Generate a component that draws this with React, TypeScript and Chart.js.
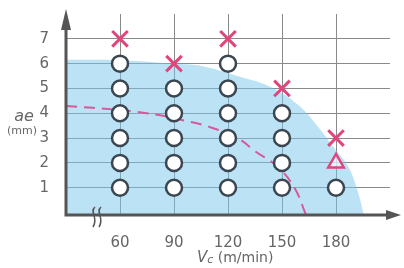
import React, { useEffect, useRef } from "react";
import { Chart, registerables } from "chart.js";

Chart.register(...registerables);

// Tick values
const xTicks = [60, 90, 120, 150, 180];
const yTicks = [1, 2, 3, 4, 5, 6, 7];

// Marker positions
const circlePoints = [
  { x: 60, y: 1 }, { x: 60, y: 2 }, { x: 60, y: 3 }, { x: 60, y: 4 }, { x: 60, y: 5 }, { x: 60, y: 6 },
  { x: 90, y: 1 }, { x: 90, y: 2 }, { x: 90, y: 3 }, { x: 90, y: 4 }, { x: 90, y: 5 },
  { x: 120, y: 1 }, { x: 120, y: 2 }, { x: 120, y: 3 }, { x: 120, y: 4 }, { x: 120, y: 5 }, { x: 120, y: 6 },
  { x: 150, y: 1 }, { x: 150, y: 2 }, { x: 150, y: 3 }, { x: 150, y: 4 },
  { x: 180, y: 1 },
];
const crossPoints = [
  { x: 60, y: 7 }, { x: 90, y: 6 }, { x: 120, y: 7 }, { x: 150, y: 5 }, { x: 180, y: 3 },
];
const trianglePoints = [{ x: 180, y: 2 }];

// Blue region boundary
const regionX = [30, 60, 90, 104, 126, 144, 159, 170, 178.3, 186.6, 192, 195.5];
const regionY = [6.16, 6.14, 6.0, 5.92, 5.48, 5.05, 4.33, 3.46, 2.66, 1.87, 0.87, -0.1];

// Dashed boundary
const dashX = [30, 60, 81.6, 94.3, 109.2, 125.8, 135.2, 147.9, 157.3, 162.8, 163.3];
const dashY = [4.29, 4.13, 3.93, 3.73, 3.46, 2.98, 2.46, 1.83, 0.95, 0.0, -0.1];

const X_MIN = 30;
const X_MAX = 210;
const Y_MIN = -0.1;
const Y_MAX = 8;

const FONT = "'DejaVu Sans', sans-serif";
const TEXT = "#666";
const AXIS = "#555";
const PINK = "#e0457c";

const decorPlugin = {
  id: "decor",
  afterDatasetsDraw(chart: any) {
    const { ctx, chartArea } = chart;
    const { left, bottom, top, right } = chartArea;
    ctx.save();
    ctx.strokeStyle = AXIS;
    ctx.lineWidth = 3;
    ctx.beginPath();
    ctx.moveTo(left, bottom);
    ctx.lineTo(left, top + 14);
    ctx.moveTo(left - 1.5, bottom);
    ctx.lineTo(right - 2, bottom);
    ctx.stroke();
    ctx.fillStyle = AXIS;
    ctx.beginPath();
    ctx.moveTo(left, top - 5);
    ctx.lineTo(left - 5, top + 16);
    ctx.lineTo(left + 5, top + 16);
    ctx.closePath();
    ctx.fill();
    ctx.beginPath();
    ctx.moveTo(right + 11, bottom);
    ctx.lineTo(right - 4, bottom - 5);
    ctx.lineTo(right - 4, bottom + 5);
    ctx.closePath();
    ctx.fill();
    ctx.strokeStyle = AXIS;
    ctx.lineWidth = 1.5;
    [94, 100].forEach((bx) => {
      ctx.beginPath();
      ctx.moveTo(bx + 1, bottom - 8);
      ctx.bezierCurveTo(bx - 5, bottom - 3, bx + 5, bottom + 3, bx - 1, bottom + 12);
      ctx.stroke();
    });
    ctx.restore();
  },
  afterDraw(chart: any) {
    const { ctx } = chart;
    ctx.save();
    ctx.fillStyle = TEXT;
    ctx.textBaseline = "middle";
    ctx.textAlign = "center";
    ctx.font = `italic 16px ${FONT}`;
    ctx.fillText("ae", 24, 117);
    ctx.font = `11px ${FONT}`;
    ctx.fillText("(mm)", 22, 131);
    ctx.textAlign = "left";
    let x = 197;
    ctx.font = `italic 15px ${FONT}`;
    ctx.fillText("V", x, 258);
    x += ctx.measureText("V").width;
    ctx.font = `italic 11px ${FONT}`;
    ctx.fillText("c", x, 260);
    x += ctx.measureText("c").width;
    ctx.font = `14px ${FONT}`;
    ctx.fillText(" (m/min)", x, 258);
    ctx.restore();
  },
};

export default function App() {
  const ref = useRef<HTMLCanvasElement | null>(null);
  useEffect(() => {
    if (!ref.current) return;
    const chart = new Chart(ref.current, {
      type: "scatter",
      data: {
        datasets: [
          {
            label: "cross",
            data: crossPoints,
            pointStyle: "crossRot",
            pointRadius: 11,
            pointBorderWidth: 3,
            borderColor: PINK,
            backgroundColor: PINK,
            order: 0,
          } as any,
          {
            label: "triangle",
            data: trianglePoints,
            pointStyle: "triangle",
            pointRadius: 9,
            pointBorderWidth: 2.5,
            borderColor: PINK,
            backgroundColor: "rgba(255,255,255,0.6)",
            order: 1,
          },
          {
            label: "circle",
            data: circlePoints,
            pointStyle: "circle",
            pointRadius: 8,
            pointBorderWidth: 2.5,
            borderColor: "#3b4650",
            backgroundColor: "#ffffff",
            order: 2,
          },
          {
            label: "dash",
            data: dashX.map((x, i) => ({ x, y: dashY[i] })),
            showLine: true,
            pointRadius: 0,
            borderColor: "#d8589c",
            borderWidth: 2,
            borderDash: [11, 7],
            tension: 0.4,
            fill: false,
            order: 3,
          },
          {
            label: "region",
            data: regionX.map((x, i) => ({ x, y: regionY[i] })),
            showLine: true,
            pointRadius: 0,
            borderWidth: 0,
            borderColor: "rgba(0,0,0,0)",
            backgroundColor: "rgba(120,200,235,0.5)",
            tension: 0.4,
            fill: "start",
            order: 4,
          },
        ],
      },
      options: {
        animation: false,
        responsive: false,
        events: [],
        layout: { padding: { top: 10, right: 11, left: 0, bottom: 0 } },
        plugins: { legend: { display: false }, tooltip: { enabled: false } },
        scales: {
          x: {
            type: "linear",
            min: X_MIN,
            max: X_MAX,
            afterBuildTicks: (scale: any) => {
              scale.ticks = xTicks.map((v) => ({ value: v }));
            },
            afterFit: (scale: any) => {
              scale.height = 53;
              scale.paddingLeft = 0;
              scale.paddingRight = 0;
            },
            grid: { color: "#8a8a8a", lineWidth: 1, drawTicks: false },
            border: { display: false },
            ticks: {
              color: TEXT,
              font: { family: FONT, size: 15 },
              padding: 19,
              maxRotation: 0,
            },
          },
          y: {
            type: "linear",
            min: Y_MIN,
            max: Y_MAX,
            afterBuildTicks: (scale: any) => {
              scale.ticks = yTicks.map((v) => ({ value: v }));
            },
            afterFit: (scale: any) => {
              scale.width = 66;
              scale.paddingTop = 0;
              scale.paddingBottom = 0;
            },
            grid: { color: "#8a8a8a", lineWidth: 1, drawTicks: false },
            border: { display: false },
            ticks: {
              color: TEXT,
              font: { family: FONT, size: 15 },
              padding: 17,
            },
          },
        },
      },
      plugins: [decorPlugin],
    } as any);
    return () => chart.destroy();
  }, []);
  return (
    <div style={{ position: "fixed", left: 0, top: 0, width: 404, height: 268, background: "#fff" }}>
      <canvas ref={ref} width={404} height={268} />
    </div>
  );
}
